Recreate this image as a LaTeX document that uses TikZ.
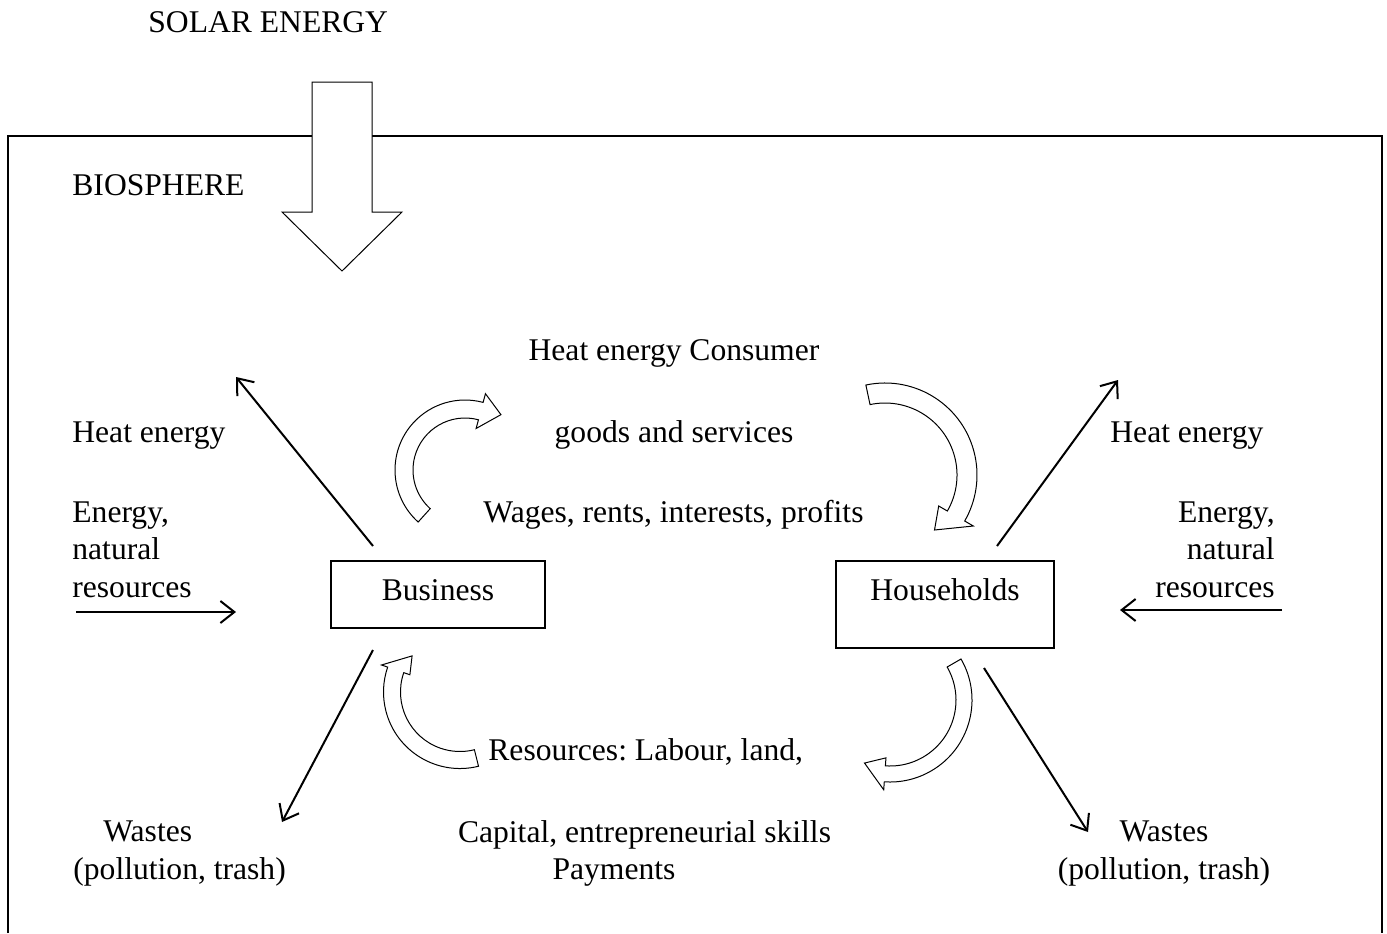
\documentclass[tikz,border=0pt]{standalone}
\usepackage{fontspec}
\setmainfont{Liberation Serif}
\usetikzlibrary{arrows.meta}
\frenchspacing

\tikzset{
  every node/.style={font=\fontsize{15.8}{18.75}\selectfont, inner sep=0pt},
  sector/.style={draw, line width=0.6pt, minimum width=107pt, minimum height=33.5pt,
    text height=10.5pt, text depth=5pt},
  flow/.style={line width=1pt, -{Straight Barb[length=7pt, width=11pt]}},
  blockarrow/.style={draw, fill=white, line width=0.5pt},
}

\begin{document}
\begin{tikzpicture}[x=0.5pt, y=-0.5pt]
    \useasboundingbox (0,0) rectangle (1387,933);
    % Biosphere, open at the bottom
    \draw[line width=0.7pt] (8,933) -- (8,136) -- (1382,136) -- (1382,933);
    \node[anchor=base west] (biosphere) at (72,195) {BIOSPHERE};
    % Solar energy coming in
    \node[anchor=base west] (solar) at (148,32) {SOLAR ENERGY};
    \draw[blockarrow] (312,82) -- (372,82) -- (372,212) -- (402,212)
      -- (342,271) -- (282,212) -- (312,212) -- cycle;
    % The two sectors
    \node[sector] (business) at (438,594.5) {Business};
    \node[sector, minimum width=109pt, minimum height=43.5pt, text depth=15pt]
      (households) at (945,604.5) {Households};
    % Circular flow (curved block arrows)
    \foreach \cx/\cy/\rad/\tail/\base/\tip/\rtip/\hw/\hh in
      {465/470/61/132/285/303/66/9/18, 885/475/82/258/390/408/74/10/20,
       460/692/68/76/199/217/60/8.5/15, 890/700/74/330/454/472/68/8/16}{
      \draw[blockarrow] ([shift={(\tail:\rad+\hw)}]\cx,\cy)
        arc[start angle=\tail, end angle=\base, radius=\rad+\hw]
        -- ([shift={(\base:\rad+\hh)}]\cx,\cy) -- ([shift={(\tip:\rtip)}]\cx,\cy)
        -- ([shift={(\base:\rad-\hh)}]\cx,\cy) -- ([shift={(\base:\rad-\hw)}]\cx,\cy)
        arc[start angle=\base, end angle=\tail, radius=\rad-\hw] -- cycle;
    }
    % Flow labels
    \node[anchor=base] (consumer) at (674,360) {Heat energy Consumer};
    \node[anchor=base] (goods) at (674,442) {goods and services};
    \node[anchor=base] (wages) at (673.5,522) {Wages, rents, interests, profits};
    \node[anchor=base west] (resources) at (488,760) {Resources: Labour, land,};
    \node[anchor=base] (capital) at (644.5,842) {Capital, entrepreneurial skills};
    \node[anchor=base] (payments) at (614,879) {Payments};
    % Business side
    \node[anchor=base west] (heatL) at (72,442) {Heat energy};
    \node[anchor=base west, align=left] (energyL) at (72,597) {Energy,\\natural\\resources};
    \node[anchor=base west, align=left] (wastesL) at (73,879) {\hspace*{15pt}Wastes\\(pollution, trash)};
    \coordinate (inL) at (76,612);
    \coordinate (inLtip) at (236,612);
    \coordinate (bizUp) at (373,546);
    \coordinate (heatLtip) at (236,377);
    \coordinate (bizDown) at (373,650);
    \coordinate (wasteLtip) at (282,822);
    \draw[flow] (inL) -- (inLtip);
    \draw[flow] (bizUp) -- (heatLtip);
    \draw[flow] (bizDown) -- (wasteLtip);
    % Household side
    \node[anchor=base west] (heatR) at (1110,442) {Heat energy};
    \node[anchor=base east, align=right] (energyR) at (1275,597) {Energy,\\natural\\resources};
    \node[anchor=base, align=center] (wastesR) at (1164,879) {Wastes\\(pollution, trash)};
    \coordinate (inR) at (1282,610);
    \coordinate (inRtip) at (1120,610);
    \coordinate (hhUp) at (997,546);
    \coordinate (heatRtip) at (1118,380);
    \coordinate (hhDown) at (984,668);
    \coordinate (wasteRtip) at (1088,832);
    \draw[flow] (inR) -- (inRtip);
    \draw[flow] (hhUp) -- (heatRtip);
    \draw[flow] (hhDown) -- (wasteRtip);
\end{tikzpicture}
\end{document}
